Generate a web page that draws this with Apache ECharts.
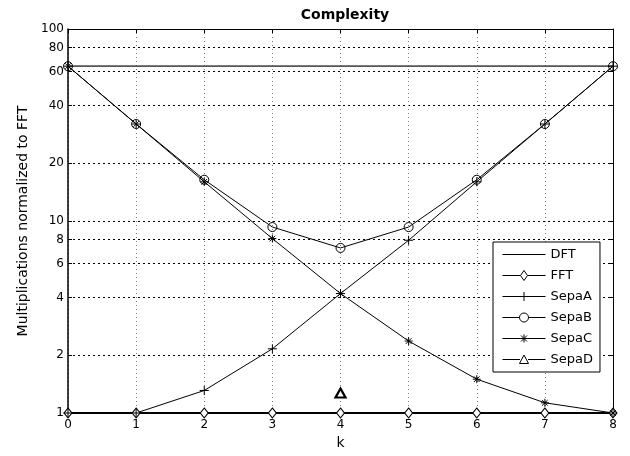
<!DOCTYPE html>
<html>
<head>
<meta charset="utf-8">
<script src="https://cdn.jsdelivr.net/npm/echarts@6/dist/echarts.min.js"></script>
<style>html,body{margin:0;padding:0;background:#fff}#c{width:630px;height:456px}</style>
</head>
<body>
<div id="c"></div>
<script>
var kValues = [0, 1, 2, 3, 4, 5, 6, 7, 8];
var DFT   = [64, 64, 64, 64, 64, 64, 64, 64, 64];
var FFT   = [1, 1, 1, 1, 1, 1, 1, 1, 1];
var SepaA = [1, 1, 1.31, 2.16, 4.19, 7.94, 16, 32, 64];
var SepaB = [64, 32, 16.4, 9.3, 7.24, 9.3, 16.4, 32, 64];
var SepaC = [64, 32, 16, 8.1, 4.19, 2.37, 1.5, 1.13, 1];
var SepaD_k = [4];
var SepaD = [1.27];
var yTicks = [1, 2, 4, 6, 8, 10, 20, 40, 60, 80, 100];
var xTicks = [0, 1, 2, 3, 4, 5, 6, 7, 8];
var seriesNames = ['DFT', 'FFT', 'SepaA', 'SepaB', 'SepaC', 'SepaD'];

function pairs(xs, ys) { return xs.map(function (x, i) { return [x, ys[i]]; }); }

var FONT = 'DejaVu Sans';
var plusPath = 'path://M0,5L10,5M5,0L5,10';
var starPath = 'path://M0,5L10,5M5,0L5,10M1.5,1.5L8.5,8.5M1.5,8.5L8.5,1.5';

// legend icons (43 x 14 box): line with marker outline
var BOX = 'M0,0M43,14';
var legendIcons = {
  DFT:   'path://' + BOX + 'M0,7L43,7',
  FFT:   'path://' + BOX + 'M0,7L18,7M25,7L43,7M21.5,2L25,7L21.5,12L18,7Z',
  SepaA: 'path://' + BOX + 'M0,7L43,7M21.5,2.5L21.5,11.5',
  SepaB: 'path://' + BOX + 'M0,7L17,7M26,7L43,7M17,7A4.5,4.5 0 1,0 26,7A4.5,4.5 0 1,0 17,7Z',
  SepaC: 'path://' + BOX + 'M0,7L43,7M21.5,3L21.5,11M18.5,4L24.5,10M18.5,10L24.5,4',
  SepaD: 'path://' + BOX + 'M0,7L17.5,7M25.5,7L43,7M21.5,2.5L26,11L17,11Z'
};

function lineSeries(name, data, symbol, size, extra) {
  var s = {
    name: name, type: 'line', xAxisIndex: 0, yAxisIndex: 0,
    data: pairs(kValues, data),
    symbol: symbol, symbolSize: size, showAllSymbol: true,
    lineStyle: { color: '#000', width: 1 },
    itemStyle: { color: 'rgba(255,255,255,0)', borderColor: '#000', borderWidth: 1 },
    emphasis: { disabled: true },
    animation: false, z: 3
  };
  if (extra) for (var k in extra) s[k] = extra[k];
  return s;
}

var chart = echarts.init(document.getElementById('c'), null, { renderer: 'canvas' });
var option = {
  backgroundColor: '#fff',
  animation: false,
  title: {
    text: 'Complexity', left: 340, top: 3, textAlign: 'center',
    textStyle: { fontFamily: FONT, fontSize: 14, fontWeight: 'bold', color: '#000' }
  },
  grid: { left: 68, right: 17, top: 29, bottom: 43, containLabel: false },
  legend: {
    orient: 'vertical', left: 493, top: 242,
    padding: [5, 7, 5, 9], itemGap: 6, itemWidth: 43, itemHeight: 14,
    backgroundColor: '#fff', borderColor: '#000', borderWidth: 1,
    itemStyle: { color: 'rgba(0,0,0,0)', borderColor: '#000', borderWidth: 1 },
    textStyle: { fontFamily: FONT, fontSize: 13, color: '#000' },
    data: seriesNames.map(function (n) { return { name: n, icon: legendIcons[n] }; })
  },
  xAxis: [{
    type: 'value', min: 0, max: 8, interval: 1, position: 'bottom',
    name: 'k', nameLocation: 'middle', nameGap: 19,
    nameTextStyle: { fontFamily: FONT, fontSize: 14, color: '#000' },
    axisLine: { show: true, onZero: false, lineStyle: { color: '#000', width: 1 } },
    axisTick: { show: true, inside: true, length: 4, lineStyle: { color: '#000' } },
    axisLabel: { fontFamily: FONT, fontSize: 12, color: '#000', margin: 6,
      formatter: function (v) { return xTicks.indexOf(v) >= 0 ? String(v) : ''; } },
    splitLine: { show: true, lineStyle: { color: '#777', type: [1, 3], width: 1 } }
  }, {
    type: 'value', min: 0, max: 8, interval: 1, position: 'top',
    axisLine: { show: true, onZero: false, lineStyle: { color: '#000', width: 1 } },
    axisTick: { show: true, inside: true, length: 4, lineStyle: { color: '#000' } },
    axisLabel: { show: false }, splitLine: { show: false }
  }],
  yAxis: [{
    type: 'log', logBase: 10, min: 1, max: 100, position: 'left',
    name: 'Multiplications normalized to FFT', nameLocation: 'middle', nameGap: 33,
    nameTextStyle: { fontFamily: FONT, fontSize: 14, color: '#000' },
    axisLine: { show: true, onZero: false, lineStyle: { color: '#000', width: 1.5 } },
    axisTick: { show: true, inside: true, length: 4, lineStyle: { color: '#000' }, customValues: yTicks },
    axisLabel: { fontFamily: FONT, fontSize: 12, color: '#000', margin: 4, customValues: yTicks },
    splitLine: { show: true, lineStyle: { color: '#000', type: [2, 3], width: 1 } },
    minorTick: { show: false }
  }, {
    type: 'log', logBase: 10, min: 1, max: 100, position: 'right',
    axisLine: { show: true, onZero: false, lineStyle: { color: '#000', width: 1 } },
    axisTick: { show: true, inside: true, length: 4, lineStyle: { color: '#000' }, customValues: yTicks },
    axisLabel: { show: false, customValues: yTicks }, splitLine: { show: false }
  }],
  series: [
    lineSeries('DFT', DFT, 'none', 0, { lineStyle: { color: '#555', width: 1.8 } }),
    lineSeries('FFT', FFT, 'diamond', [8, 10], { lineStyle: { color: '#000', width: 2 }, itemStyle: { color: '#fff', borderColor: '#000', borderWidth: 1 } }),
    lineSeries('SepaA', SepaA, plusPath, 9),
    lineSeries('SepaB', SepaB, 'circle', 9),
    lineSeries('SepaC', SepaC, starPath, 8),
    {
      name: 'SepaD', type: 'line', data: pairs(SepaD_k, SepaD),
      symbol: 'triangle', symbolSize: [10, 9], showAllSymbol: true,
      lineStyle: { color: '#000', width: 1 },
      itemStyle: { color: '#fff', borderColor: '#000', borderWidth: 2.2 },
      emphasis: { disabled: true }, z: 4
    }
  ]
};
chart.setOption(option);
</script>
</body>
</html>
